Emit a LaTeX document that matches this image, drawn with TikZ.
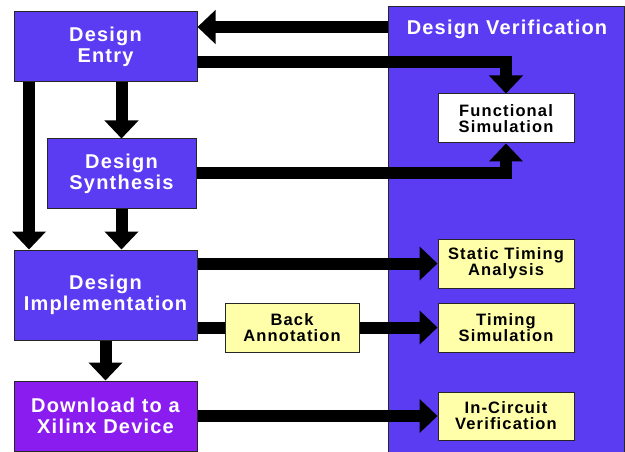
\documentclass[tikz,border=0pt]{standalone}
\usepackage{fontspec}
\setmainfont{Liberation Sans}
\newfontfamily\lsfont[LetterSpace=6]{Liberation Sans}
\newfontfamily\lssmall[LetterSpace=7]{Liberation Sans}
\usetikzlibrary{arrows.meta}
\definecolor{dvblue}{HTML}{5B3CF2}
\definecolor{dlpurple}{HTML}{8A1CF0}
\definecolor{ylw}{HTML}{FFFFAA}
\tikzset{
  bigbox/.style={draw=black!85, line width=1pt, fill=dvblue, text=white, align=center,
    font=\lsfont\bfseries\fontsize{20}{21}\selectfont, inner sep=0pt},
  smallbox/.style={draw=black!85, line width=1pt, fill=ylw, text=black, align=center,
    font=\lssmall\bfseries\fontsize{16.5}{16}\selectfont, inner sep=0pt,
    minimum width=136pt, minimum height=49pt},
  arr/.style={line width=12pt, -{Triangle[width=33pt,length=18pt]}},
  bar/.style={line width=12pt}
}
\begin{document}
\begin{tikzpicture}[x=1pt,y=-1pt]
\useasboundingbox (0,0) rectangle (625,452);
% Design Verification panel
\node[draw=black!85, line width=1pt, fill=dvblue, minimum width=236pt, minimum height=460pt, inner sep=0pt] (dv) at (506,237) {};
\node[text=white, font=\lsfont\bfseries\fontsize{20}{21}\selectfont] (dvt) at (507,29) {Design Verification};
% left boxes
\node[bigbox, minimum width=183pt, minimum height=70pt] (de) at (105.5,47) {Design\\Entry};
\node[bigbox, minimum width=149pt, minimum height=69pt] (ds) at (121.5,173.5) {Design\\Synthesis};
\node[bigbox, minimum width=183pt, minimum height=90pt] (di) at (105.5,295) {Design\\Implementation};
\node[bigbox, fill=dlpurple, minimum width=183pt, minimum height=70pt] (dl) at (105.5,416) {Download to a\\Xilinx Device};
% yellow / white boxes
\node[smallbox, fill=white] (fs) at (506,118.5) {Functional\\Simulation};
\node[smallbox] (sta) at (506,263.5) {Static Timing\\Analysis};
\node[smallbox] (ts) at (506,327.5) {Timing\\Simulation};
\node[smallbox, minimum height=48pt] (icv) at (506,416) {In-Circuit\\Verification};
\node[smallbox, minimum width=134pt] (ba) at (292,327.5) {Back\\Annotation};
% connectors
\coordinate (dvin) at (388,27);
\draw[arr] (dvin) -- (de.east |- dvin);
\coordinate (deout) at (197,62);
\draw[arr] (deout) -| (fs.north);
\draw[arr] (ds.east) -| (fs.south);
\draw[arr] (ds.north |- de.south) -- (ds.north);
\coordinate (deleft) at (29,82);
\draw[arr] (deleft) -- (deleft |- di.north);
\draw[arr] (ds.south) -- (ds.south |- di.north);
\draw[arr] (di.east |- sta.west) -- (sta.west);
\draw[bar] (di.east |- ba.west) -- (ba.west);
\draw[arr] (ba.east) -- (ts.west);
\draw[arr] (di.south) -- (dl.north);
\draw[arr] (dl.east |- icv.west) -- (icv.west);
\end{tikzpicture}
\end{document}
